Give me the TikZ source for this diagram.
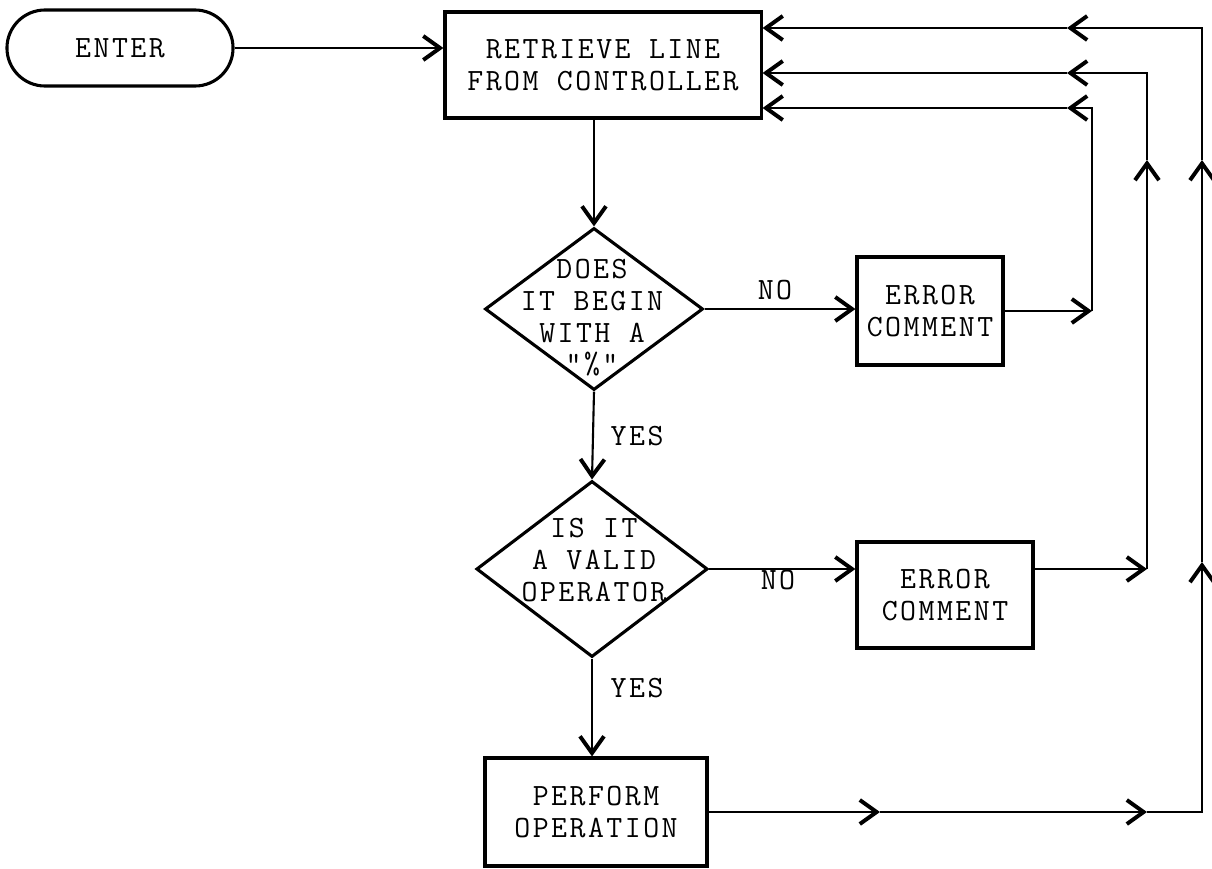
\documentclass[tikz,border=0pt]{standalone}
\usepackage{fontspec}
\usetikzlibrary{arrows.meta,shapes.geometric}
\newfontfamily\tw[LetterSpace=8]{Latin Modern Mono}
\newcommand{\twfont}{\tw\fontsize{22}{22.5}\selectfont}

\begin{document}
\begin{tikzpicture}[x=0.025cm, y=-0.025cm, line width=1.5pt,
    >={Straight Barb[length=4.2mm, width=6mm, line width=2.8pt]},
    proc/.style={rectangle, draw, line width=2.2pt, align=center, font=\twfont},
    term/.style={proc, rounded corners=0.95cm},
    decision/.style={diamond, draw, line width=2.2pt, inner sep=0pt},
    dtext/.style={align=center, font=\twfont},
    lab/.style={font=\twfont}]
    \useasboundingbox (0,0) rectangle (1212,869);

    \node [term, minimum width=5.65cm, minimum height=1.9cm] (enter) at (120,48) {ENTER};
    \node [proc, minimum width=7.9cm, minimum height=2.65cm] (fetch) at (603,65) {RETRIEVE LINE\\FROM CONTROLLER};
    \node [decision, minimum width=5.45cm, minimum height=4.05cm] (pct) at (594,309) {};
    \node [dtext] (pcttext) at (592,318) {DOES\\IT BEGIN\\WITH A\\"\%"};
    \node [decision, minimum width=5.78cm, minimum height=4.4cm] (valid) at (592,569) {};
    \node [dtext] (validtext) at (594,560) {IS IT\\A VALID\\OPERATOR};
    \node [proc, minimum width=3.65cm, minimum height=2.7cm] (err1) at (930,311) {ERROR\\COMMENT};
    \node [proc, minimum width=4.4cm, minimum height=2.65cm] (err2) at (945,595) {ERROR\\COMMENT};
    \node [proc, minimum width=5.55cm, minimum height=2.7cm] (perf) at (596,812) {PERFORM\\OPERATION};

    \node [lab] (no1) at (775,290) {NO};
    \node [lab] (no2) at (778,580) {NO};
    \node [lab, anchor=west] (yes1) at (605,436) {YES};
    \node [lab, anchor=west] (yes2) at (605,688) {YES};

    % main flow
    \draw [->] (enter.east) -- (enter.east -| fetch.west);
    \draw [->] (fetch.south -| pct.north) -- (pct.north);
    \draw [->] (pct.south) -- (valid.north);
    \draw [->] (valid.south) -- (valid.south |- perf.north);
    \draw [->] (pct.east) -- (pct.east -| err1.west);
    \draw [->] (valid.east) -- (valid.east -| err2.west);

    % return lines
    \coordinate (r1) at (1092,108);
    \coordinate (r2) at (1147,73);
    \coordinate (r3) at (1202,28);
    \coordinate (tipl) at (1067,0);
    \coordinate (tipu) at (0,160);
    \coordinate (tipw) at (0,562);
    \coordinate (tipb) at (880,0);

    \draw [->] (err1.east) -- (err1.east -| r1);
    \draw [->] (err1.east -| r1) -- (r1) -- (tipl |- r1);
    \draw [->] (tipl |- r1) -- (fetch.east |- r1);

    \draw [->] (err2.east |- valid.east) -- (r2 |- valid.east);
    \draw [->] (r2 |- valid.east) -- (r2 |- tipu);
    \draw [->] (r2 |- tipu) -- (r2) -- (tipl |- r2);
    \draw [->] (tipl |- r2) -- (fetch.east |- r2);

    \draw [->] (perf.east) -- (tipb |- perf.east);
    \draw [->] (tipb |- perf.east) -- (r2 |- perf.east);
    \draw [->] (r2 |- perf.east) -- (r3 |- perf.east) -- (r3 |- tipw);
    \draw [->] (r3 |- tipw) -- (r3 |- tipu);
    \draw [->] (r3 |- tipu) -- (r3) -- (tipl |- r3);
    \draw [->] (tipl |- r3) -- (fetch.east |- r3);
\end{tikzpicture}
\end{document}
